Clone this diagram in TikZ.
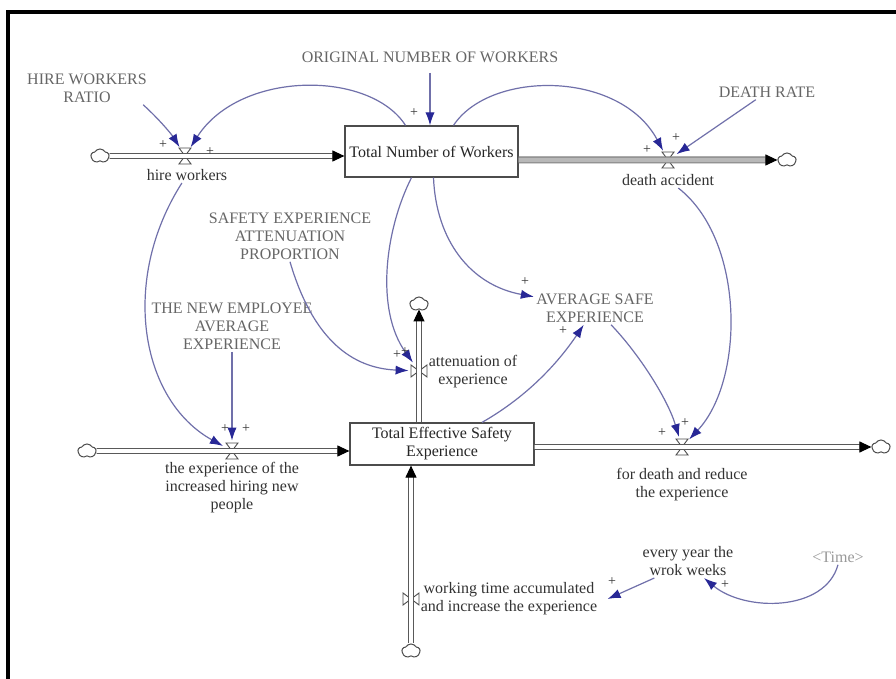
\documentclass[tikz,border=0pt]{standalone}
\usepackage{fontspec}
\setmainfont{Liberation Serif}
\usetikzlibrary{arrows.meta,shapes.symbols}

\definecolor{linkcol}{RGB}{112,112,170}
\definecolor{tipcol}{RGB}{40,40,150}

% valve symbols on flow pipes
\newcommand\valveH[1]{\draw[valve] (#1) +(-3pt,4pt) -- +(3pt,4pt) -- +(-3pt,-4pt) -- +(3pt,-4pt) -- cycle;}
\newcommand\valveV[1]{\draw[valve] (#1) +(-4pt,3pt) -- +(-4pt,-3pt) -- +(4pt,3pt) -- +(4pt,-3pt) -- cycle;}

\begin{document}
\begin{tikzpicture}[x=0.5pt,y=-0.5pt,
  every node/.style={font=\fontsize{8}{9}\selectfont, inner sep=1pt},
  stock/.style={draw=black!70, line width=0.6pt, fill=white, align=center, text=black!85},
  const/.style={align=center, text=black!60},
  aux/.style={align=center, text=black!80},
  shadowvar/.style={text=black!40},
  sign/.style={font=\fontsize{7}{7}\selectfont, text=black!80, inner sep=0pt},
  link/.style={draw=linkcol, line width=0.6pt, -{Latex[length=6.5pt,width=4.6pt,color=tipcol]}},
  pipe/.style={draw=black!65, line width=0.55pt, double=white, double distance=1.8pt,
    -{Triangle[length=6pt,width=5.5pt,color=black]}},
  pipeout/.style={pipe, draw=black!50, double=black!28, double distance=2.4pt},
  tap/.style={circle, minimum size=10pt, inner sep=0pt},
  valve/.style={draw=black!70, line width=0.45pt},
  sink/.style={cloud, cloud puffs=5, cloud puff arc=120, aspect=1.4, draw=black!70,
    line width=0.5pt, inner sep=0pt, minimum width=9pt, minimum height=7pt}
]
\useasboundingbox (0,0) rectangle (896,679);
\fill[white] (0,0) rectangle (896,679);

% frame
\draw[line width=2.2pt] (8,679) -- (8,12) -- (896,12);

% stocks
\node[stock, minimum width=86.5pt, minimum height=25.5pt] (tnw) at (431.5,151.5) {Total Number of Workers};
\node[stock, minimum width=92pt, minimum height=21pt] (tese) at (442,444) {Total Effective Safety\\Experience};

% sources and sinks
\node[sink] (sA) at (100,156) {};
\node[sink] (sB) at (787,160) {};
\node[sink] (sC) at (87,451) {};
\node[sink] (sD) at (881,447) {};
\node[sink] (sE) at (419,304) {};
\node[sink] (sF) at (411,651) {};

% valves
\node[tap] (hv) at (185,156) {};
\node[tap] (dv) at (668,160) {};
\node[tap] (ev) at (232,451) {};
\node[tap] (fv) at (682,447) {};
\node[tap] (av) at (419,371) {};
\node[tap] (wv) at (411,599) {};
\valveH{hv}
\valveH{dv}
\valveH{ev}
\valveH{fv}
\valveV{av}
\valveV{wv}

% flows
\draw[pipe] (sA) -- (sA -| tnw.west);
\draw[pipeout] (sB -| tnw.east) -- (sB);
\draw[pipe] (sC) -- (sC -| tese.west);
\draw[pipe] (sD -| tese.east) -- (sD);
\draw[pipe] (sE |- tese.north) -- (sE);
\draw[pipe] (sF) -- (sF |- tese.south);

% constants
\node[const] (onw) at (430,57) {ORIGINAL NUMBER OF WORKERS};
\node[const] (hwr) at (87,88) {HIRE WORKERS\\RATIO};
\node[const] (dr) at (767,92) {DEATH RATE};
\node[const] (seap) at (290,236) {SAFETY EXPERIENCE\\ATTENUATION\\PROPORTION};
\node[const] (nee) at (232,326) {THE NEW EMPLOYEE\\AVERAGE\\EXPERIENCE};
\node[const] (ase) at (595,308) {AVERAGE SAFE\\EXPERIENCE};

% flow names and auxiliaries
\node[aux] (hwl) at (187,175) {hire workers};
\node[aux] (dal) at (668,180) {death accident};
\node[aux] (eal) at (232,488) {the experience of the\\increased hiring new\\people};
\node[aux] (fdl) at (682,485) {for death and reduce\\the experience};
\node[aux] (atl) at (473,372) {attenuation of\\experience};
\node[aux] (wta) at (509,599) {working time accumulated\\and increase the experience};
\node[aux] (eyw) at (688,561) {every year the\\wrok weeks};
\node[shadowvar] (time) at (838,557) {\textless Time\textgreater};

% causal links
\draw[link, shorten <=4pt] (onw) -- (onw |- tnw.north);
\draw[link] ([xshift=-3pt]hwr.south east) .. controls (160,120) and (172,135) .. (hv);
\draw[link] ([xshift=-13pt]tnw.north) .. controls (370,70) and (240,70) .. (hv);
\draw[link] ([xshift=11pt]tnw.north) .. controls (490,70) and (620,70) .. (dv);
\draw[link] (dr) -- (dv);
\draw[link] (hwl) .. controls (120,280) and (140,400) .. (ev);
\draw[link] (nee) -- (ev);
\draw[link] (seap.south) .. controls (310,330) and (345,368) .. (av);
\draw[link] ([xshift=-10pt]tnw.south) .. controls (385,230) and (375,310) .. (av);
\draw[link] ([xshift=1pt]tnw.south) .. controls (436,240) and (470,285) .. (ase);
\draw[link] ([xshift=20pt]tese.north) .. controls (530,395) and (560,360) .. (ase);
\draw[link] (ase) .. controls (640,355) and (668,400) .. (fv);
\draw[link] (dal) .. controls (745,240) and (745,380) .. (fv);
\draw[link] ([xshift=7pt]eyw.south west) -- ([xshift=4pt]wta.east);
\draw[link] (time.south) .. controls (825,612) and (745,612) .. ([xshift=8pt]eyw.south);

% link polarities
\node[sign] (s1) at (414,113) {+};
\node[sign] (s2) at (163,145) {+};
\node[sign] (s3) at (210,152) {+};
\node[sign] (s4) at (647,150) {+};
\node[sign] (s5) at (676,138) {+};
\node[sign] (s6) at (225,429) {+};
\node[sign] (s7) at (246,429) {+};
\node[sign] (s8) at (397,355) {+};
\node[sign] (s9) at (405,352) {+};
\node[sign] (s10) at (525,282) {+};
\node[sign] (s11) at (563,331) {+};
\node[sign] (s12) at (662,433) {+};
\node[sign] (s13) at (685,423) {+};
\node[sign] (s14) at (612,582) {+};
\node[sign] (s15) at (725,585) {+};
\end{tikzpicture}
\end{document}
